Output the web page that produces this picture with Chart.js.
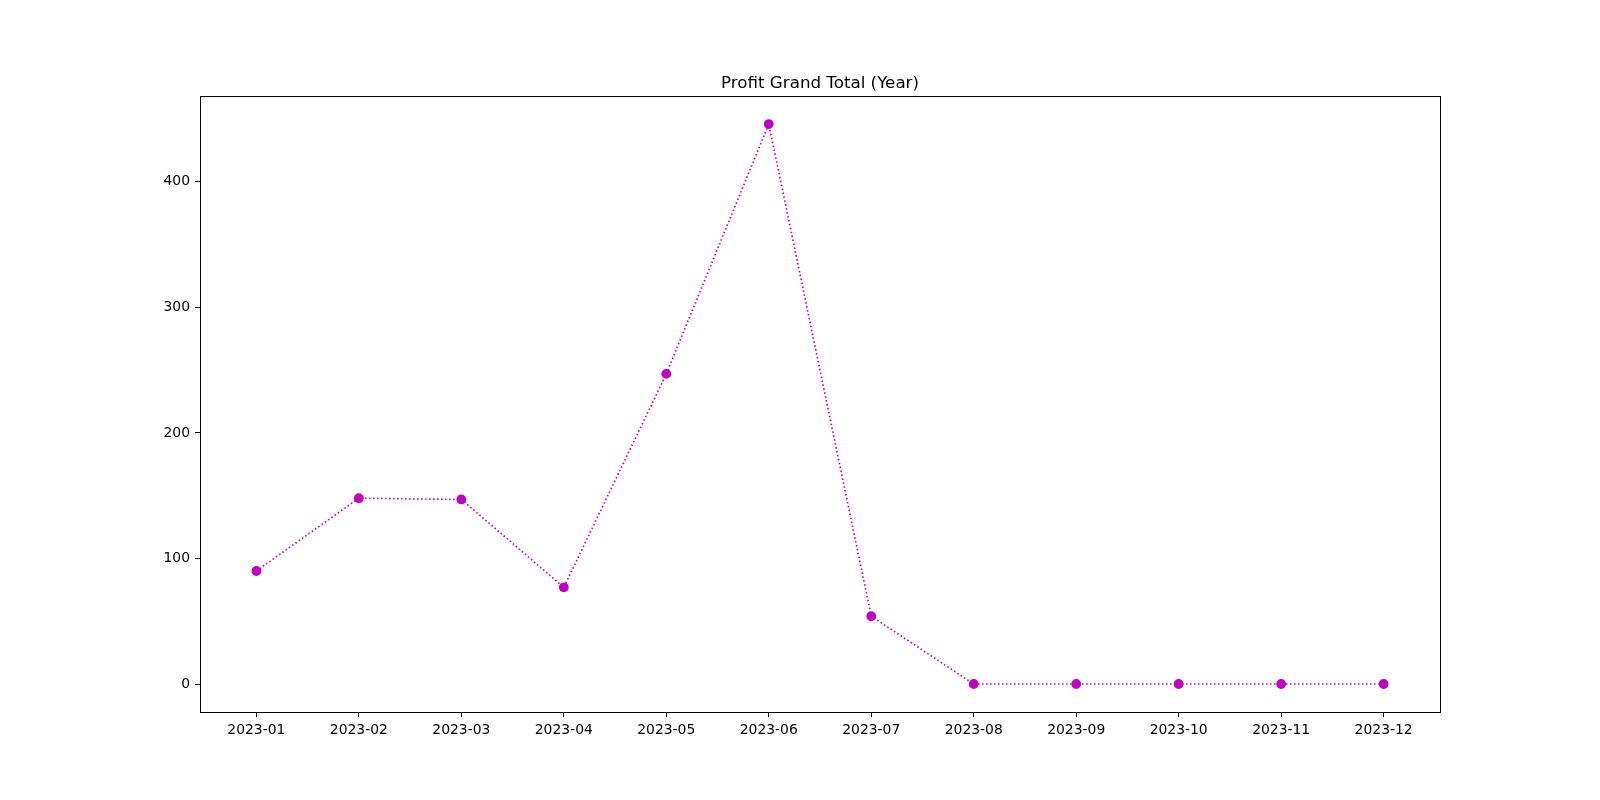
<!DOCTYPE html>
<html>
<head>
<meta charset="utf-8">
<title>Profit Grand Total (Year)</title>
<script src="https://cdn.jsdelivr.net/npm/chart.js@4.4.1/dist/chart.umd.min.js"></script>
<style>
    html, body { margin: 0; padding: 0; background: #fff; }
    #wrap { width: 1600px; height: 800px; }
</style>
</head>
<body>
<div id="wrap"><canvas id="myChart" width="1600" height="800"></canvas></div>
<script>
/////////////////////////////////////////////data//////////////////////////////////////////////

const months = ["2023-01", "2023-02", "2023-03", "2023-04", "2023-05", "2023-06",
                "2023-07", "2023-08", "2023-09", "2023-10", "2023-11", "2023-12"];
const profit = [90, 148, 147, 77, 247, 446, 54, 0, 0, 0, 0, 0];
const yTicks = [0, 100, 200, 300, 400];
const chartTitle = "Profit Grand Total (Year)";

/////////////////////////////////////////////data//////////////////////////////////////////////

const FONT = "'DejaVu Sans', sans-serif";
const MAGENTA = "#bf00bf";

// matplotlib style 5% margins
const yMin = Math.min(...profit), yMax = Math.max(...profit);
const yPad = (yMax - yMin) * 0.05;
const xPad = (months.length - 1) * 0.05;

// draws the box around the plot area
const frame = {
    id: "frame",
    afterDraw(chart) {
        const { ctx, chartArea: a } = chart;
        ctx.save();
        ctx.strokeStyle = "#000";
        ctx.lineWidth = 1;
        ctx.strokeRect(a.left + 0.5, a.top + 0.5, a.right - a.left, a.bottom - a.top);
        ctx.restore();
    }
};

new Chart(document.getElementById("myChart").getContext("2d"), {
    type: "line",
    data: {
        datasets: [{
            label: "Profit",
            data: profit.map((v, i) => ({ x: i, y: v })),
            borderColor: MAGENTA,
            borderWidth: 1.7,
            borderDash: [1.5, 2.5],
            borderCapStyle: "butt",
            backgroundColor: MAGENTA,
            pointBackgroundColor: MAGENTA,
            pointBorderColor: MAGENTA,
            pointRadius: 4.2,
            pointBorderWidth: 1.4,
            tension: 0,
            fill: false
        }]
    },
    options: {
        responsive: false,
        animation: false,
        devicePixelRatio: 1,
        layout: { padding: { left: 40, right: 0, top: 0, bottom: 0 } },
        plugins: {
            legend: { display: false },
            tooltip: { enabled: false },
            title: {
                display: true,
                text: chartTitle,
                color: "#000",
                font: { family: FONT, size: 16.7, weight: "normal", lineHeight: 1.2 },
                padding: { top: 74, bottom: 2 }
            }
        },
        scales: {
            x: {
                type: "linear",
                min: -xPad,
                max: months.length - 1 + xPad,
                afterBuildTicks: s => { s.ticks = months.map((m, i) => ({ value: i })); },
                afterFit: s => { s.height = 88; },
                ticks: {
                    color: "#000",
                    font: { family: FONT, size: 13.9 },
                    padding: 5,
                    maxRotation: 0,
                    autoSkip: false,
                    callback: v => months[v]
                },
                grid: { drawOnChartArea: false, drawTicks: true, tickLength: 5, color: "#000" },
                border: { display: true, color: "#000" }
            },
            y: {
                type: "linear",
                min: yMin - yPad,
                max: yMax + yPad,
                afterBuildTicks: s => { s.ticks = yTicks.map(v => ({ value: v })); },
                afterFit: s => { s.width = 160; },
                ticks: {
                    color: "#000",
                    font: { family: FONT, size: 13.9 },
                    padding: 5
                },
                grid: { drawOnChartArea: false, drawTicks: true, tickLength: 5, color: "#000" },
                border: { display: true, color: "#000" }
            },
            // empty right axis, only reserves the right margin
            yRight: {
                type: "linear",
                position: "right",
                display: true,
                afterFit: s => { s.width = 160; },
                ticks: { display: false },
                grid: { display: false, drawTicks: false },
                border: { display: false }
            }
        }
    },
    plugins: [frame]
});
</script>
</body>
</html>
